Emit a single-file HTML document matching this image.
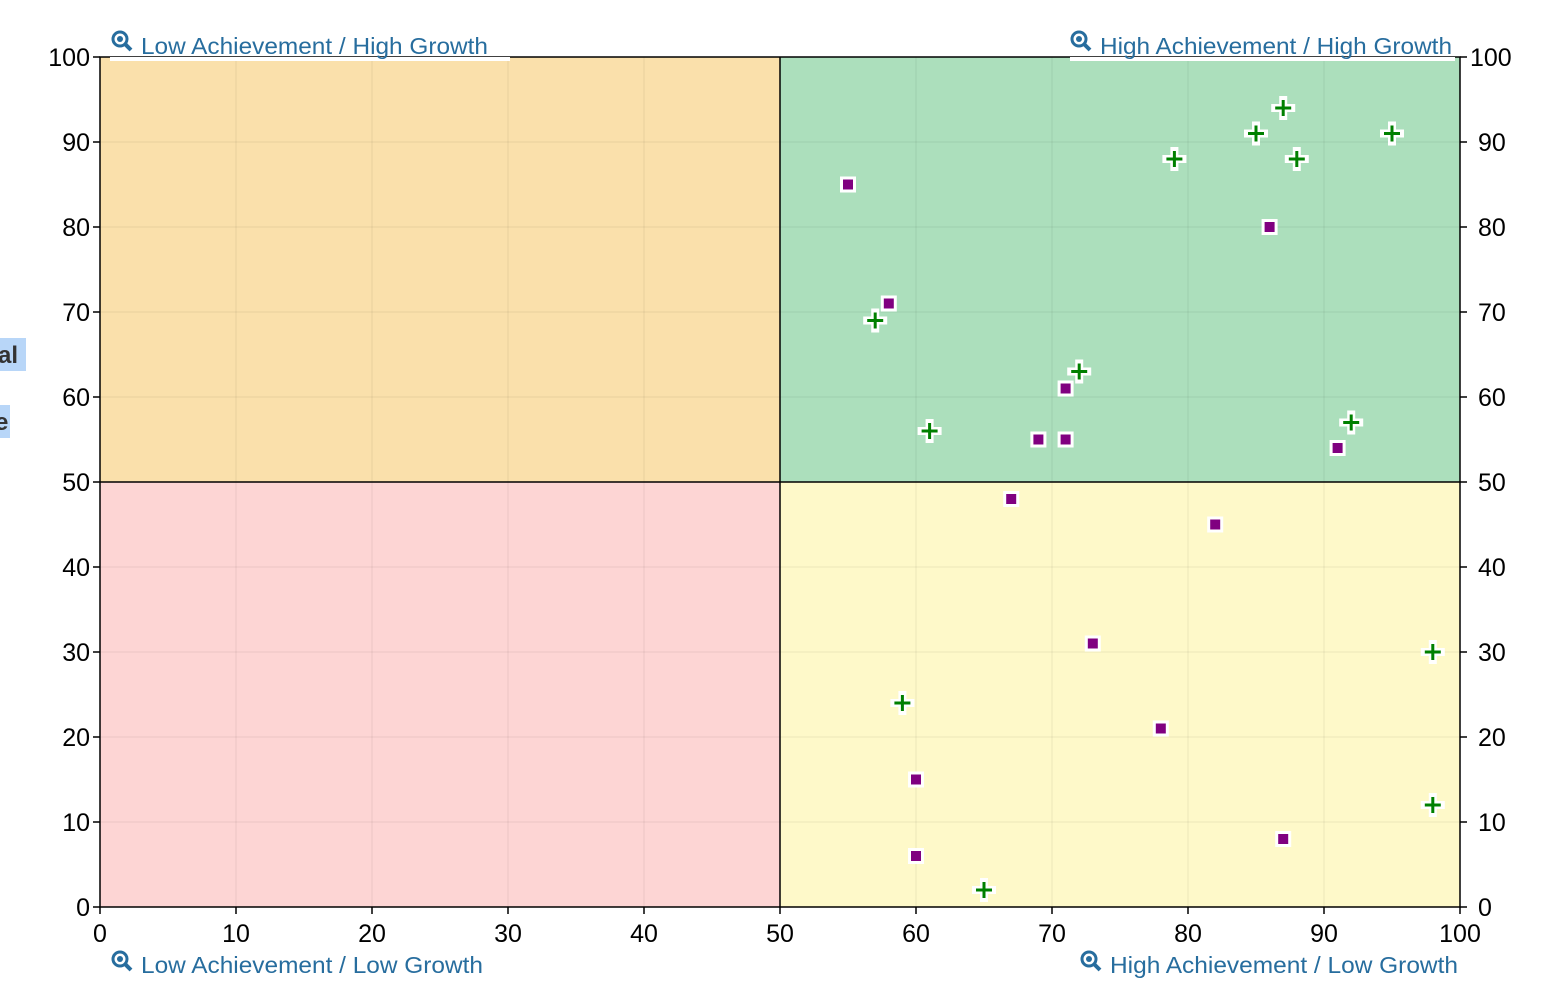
<!DOCTYPE html><html><head><style>body{margin:0;background:#fff}svg{display:block;font-family:"Liberation Sans",Arial,sans-serif}</style></head><body>
<svg width="1548" height="994" xmlns="http://www.w3.org/2000/svg" xmlns:xlink="http://www.w3.org/1999/xlink">
<defs>
<g id="sq"><rect x="-8" y="-8" width="16" height="16" fill="#fff"/><rect x="-5" y="-5" width="10" height="10" fill="#800080"/></g>
<g id="pl"><path d="M-12 0H12M0 -12V12" stroke="#fff" stroke-width="8"/><path d="M-8 0H8M0 -8V8" stroke="#008000" stroke-width="3"/></g>
</defs>
<rect x="100" y="57" width="680" height="425" fill="#fae0ab"/>
<rect x="780" y="57" width="680" height="425" fill="#acdfbc"/>
<rect x="100" y="482" width="680" height="425" fill="#fdd5d4"/>
<rect x="780" y="482" width="680" height="425" fill="#fef9c9"/>
<g stroke="rgba(0,0,0,0.035)" stroke-width="2">
<line x1="236" y1="57" x2="236" y2="907"/><line x1="372" y1="57" x2="372" y2="907"/><line x1="508" y1="57" x2="508" y2="907"/><line x1="644" y1="57" x2="644" y2="907"/><line x1="916" y1="57" x2="916" y2="907"/><line x1="1052" y1="57" x2="1052" y2="907"/><line x1="1188" y1="57" x2="1188" y2="907"/><line x1="1324" y1="57" x2="1324" y2="907"/>
<line x1="100" y1="142" x2="1460" y2="142"/><line x1="100" y1="227" x2="1460" y2="227"/><line x1="100" y1="312" x2="1460" y2="312"/><line x1="100" y1="397" x2="1460" y2="397"/><line x1="100" y1="567" x2="1460" y2="567"/><line x1="100" y1="652" x2="1460" y2="652"/><line x1="100" y1="737" x2="1460" y2="737"/><line x1="100" y1="822" x2="1460" y2="822"/>
</g>
<g stroke="#000" stroke-width="1.5" fill="none">
<rect x="100" y="57" width="1360" height="850"/>
<line x1="780" y1="57" x2="780" y2="907"/><line x1="100" y1="482" x2="1460" y2="482"/>
</g>
<g stroke="#000" stroke-width="1.5">
<line x1="100" y1="907" x2="100" y2="914"/><line x1="236" y1="907" x2="236" y2="914"/><line x1="372" y1="907" x2="372" y2="914"/><line x1="508" y1="907" x2="508" y2="914"/><line x1="644" y1="907" x2="644" y2="914"/><line x1="780" y1="907" x2="780" y2="914"/><line x1="916" y1="907" x2="916" y2="914"/><line x1="1052" y1="907" x2="1052" y2="914"/><line x1="1188" y1="907" x2="1188" y2="914"/><line x1="1324" y1="907" x2="1324" y2="914"/><line x1="1460" y1="907" x2="1460" y2="914"/>
<line x1="93" y1="57" x2="100" y2="57"/><line x1="93" y1="142" x2="100" y2="142"/><line x1="93" y1="227" x2="100" y2="227"/><line x1="93" y1="312" x2="100" y2="312"/><line x1="93" y1="397" x2="100" y2="397"/><line x1="93" y1="482" x2="100" y2="482"/><line x1="93" y1="567" x2="100" y2="567"/><line x1="93" y1="652" x2="100" y2="652"/><line x1="93" y1="737" x2="100" y2="737"/><line x1="93" y1="822" x2="100" y2="822"/><line x1="93" y1="907" x2="100" y2="907"/>
<line x1="1460" y1="57" x2="1467" y2="57"/><line x1="1460" y1="142" x2="1467" y2="142"/><line x1="1460" y1="227" x2="1467" y2="227"/><line x1="1460" y1="312" x2="1467" y2="312"/><line x1="1460" y1="397" x2="1467" y2="397"/><line x1="1460" y1="482" x2="1467" y2="482"/><line x1="1460" y1="567" x2="1467" y2="567"/><line x1="1460" y1="652" x2="1467" y2="652"/><line x1="1460" y1="737" x2="1467" y2="737"/><line x1="1460" y1="822" x2="1467" y2="822"/><line x1="1460" y1="907" x2="1467" y2="907"/>
</g>
<g font-size="25" fill="#000" text-anchor="middle">
<text x="100" y="942">0</text><text x="236" y="942">10</text><text x="372" y="942">20</text><text x="508" y="942">30</text><text x="644" y="942">40</text><text x="780" y="942">50</text><text x="916" y="942">60</text><text x="1052" y="942">70</text><text x="1188" y="942">80</text><text x="1324" y="942">90</text><text x="1460" y="942">100</text>
</g>
<g font-size="25" fill="#000" text-anchor="end">
<text x="90" y="66">100</text><text x="90" y="151">90</text><text x="90" y="236">80</text><text x="90" y="321">70</text><text x="90" y="406">60</text><text x="90" y="491">50</text><text x="90" y="576">40</text><text x="90" y="661">30</text><text x="90" y="746">20</text><text x="90" y="831">10</text><text x="90" y="916">0</text>
</g>
<g font-size="25" fill="#000">
<text x="1470" y="66">100</text><text x="1478" y="151">90</text><text x="1478" y="236">80</text><text x="1478" y="321">70</text><text x="1478" y="406">60</text><text x="1478" y="491">50</text><text x="1478" y="576">40</text><text x="1478" y="661">30</text><text x="1478" y="746">20</text><text x="1478" y="831">10</text><text x="1478" y="916">0</text>
</g>
<rect x="0" y="338" width="26" height="33" fill="#b8d6f8"/><text x="-2" y="363" font-size="24" font-weight="bold" fill="#333">al</text>
<rect x="0" y="405" width="10" height="33" fill="#b8d6f8"/><text x="-5" y="430" font-size="24" font-weight="bold" fill="#333">e</text>
<rect x="110" y="57" width="400" height="4" fill="#fff"/>
<rect x="1070" y="57" width="385" height="4" fill="#fff"/>
<g fill="#276d9e" font-size="23">
<text x="141" y="54" textLength="347" lengthAdjust="spacingAndGlyphs">Low Achievement / High Growth</text>
<text x="1100" y="54" textLength="352" lengthAdjust="spacingAndGlyphs">High Achievement / High Growth</text>
<text x="141" y="973" textLength="342" lengthAdjust="spacingAndGlyphs">Low Achievement / Low Growth</text>
<text x="1110" y="973" textLength="348" lengthAdjust="spacingAndGlyphs">High Achievement / Low Growth</text>
</g>
<g stroke="#276d9e" fill="none" stroke-width="3">
<circle cx="120" cy="39" r="7"/><line x1="125" y1="44" x2="131" y2="50" stroke-width="4"/>
<circle cx="1079" cy="39" r="7"/><line x1="1084" y1="44" x2="1090" y2="50" stroke-width="4"/>
<circle cx="120" cy="959" r="7"/><line x1="125" y1="964" x2="131" y2="970" stroke-width="4"/>
<circle cx="1089" cy="959" r="7"/><line x1="1094" y1="964" x2="1100" y2="970" stroke-width="4"/>
</g>
<g fill="#276d9e"><circle cx="120" cy="39" r="3"/><circle cx="1079" cy="39" r="3"/><circle cx="120" cy="959" r="3"/><circle cx="1089" cy="959" r="3"/></g>
<use xlink:href="#sq" href="#sq" x="848" y="184.5"/>
<use xlink:href="#sq" href="#sq" x="1269.6" y="227"/>
<use xlink:href="#sq" href="#sq" x="888.8" y="303.5"/>
<use xlink:href="#sq" href="#sq" x="1065.6" y="388.5"/>
<use xlink:href="#sq" href="#sq" x="1038.4" y="439.5"/>
<use xlink:href="#sq" href="#sq" x="1065.6" y="439.5"/>
<use xlink:href="#sq" href="#sq" x="1337.6" y="448"/>
<use xlink:href="#sq" href="#sq" x="1011.2" y="499"/>
<use xlink:href="#sq" href="#sq" x="1215.2" y="524.5"/>
<use xlink:href="#sq" href="#sq" x="1092.8" y="643.5"/>
<use xlink:href="#sq" href="#sq" x="1160.8" y="728.5"/>
<use xlink:href="#sq" href="#sq" x="916" y="779.5"/>
<use xlink:href="#sq" href="#sq" x="916" y="856"/>
<use xlink:href="#sq" href="#sq" x="1283.2" y="839"/>
<use xlink:href="#pl" href="#pl" x="1283.2" y="108"/>
<use xlink:href="#pl" href="#pl" x="1256" y="133.5"/>
<use xlink:href="#pl" href="#pl" x="1392" y="133.5"/>
<use xlink:href="#pl" href="#pl" x="1174.4" y="159"/>
<use xlink:href="#pl" href="#pl" x="1296.8" y="159"/>
<use xlink:href="#pl" href="#pl" x="875.2" y="320.5"/>
<use xlink:href="#pl" href="#pl" x="1079.2" y="371.5"/>
<use xlink:href="#pl" href="#pl" x="929.6" y="431"/>
<use xlink:href="#pl" href="#pl" x="1351.2" y="422.5"/>
<use xlink:href="#pl" href="#pl" x="1432.8" y="652"/>
<use xlink:href="#pl" href="#pl" x="902.4" y="703"/>
<use xlink:href="#pl" href="#pl" x="1432.8" y="805"/>
<use xlink:href="#pl" href="#pl" x="984" y="890"/>
</svg></body></html>
